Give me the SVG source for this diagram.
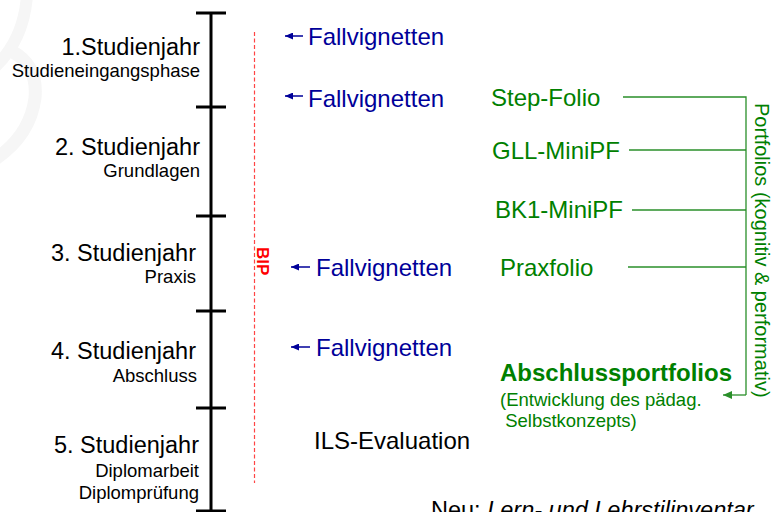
<svg xmlns="http://www.w3.org/2000/svg" width="773" height="512" viewBox="0 0 773 512">
<style>
text{font-family:"Liberation Sans",Arial,sans-serif}
.yr{font-size:23.5px;fill:#000;text-anchor:end}
.sub{font-size:18.5px;fill:#000;text-anchor:end}
.fv{font-size:24px;fill:#000099}
.gr{font-size:24px;fill:#008000}
.grs{font-size:18.5px;fill:#008000}
.blk{font-size:24px;fill:#000}
.tl{stroke:#000;stroke-width:3;fill:none}
.ba{stroke:#000099;stroke-width:1.5;fill:none;marker-end:url(#ab)}
.gl{stroke:#2a8f2a;stroke-width:1.3;fill:none}
</style>
<defs>
<marker id="ab" viewBox="0 0 8 7" refX="8" refY="3.5" markerWidth="8" markerHeight="7" markerUnits="userSpaceOnUse" orient="auto">
<path d="M0,0 L8,3.5 L0,7 z" fill="#000099"/>
</marker>
<marker id="ag" viewBox="0 0 9 8" refX="9" refY="4" markerWidth="9" markerHeight="8" markerUnits="userSpaceOnUse" orient="auto">
<path d="M0,0 L9,4 L0,8 z" fill="#2a8f2a"/>
</marker>
</defs>
<rect width="773" height="512" fill="#fff"/>
<g id="watermark" fill="none" stroke="#f6f6f6" stroke-linecap="round">
<path d="M27 -5 Q24 40 -6 68" stroke-width="12"/>
<path d="M13 52 Q38 66 35 98 Q30 136 -6 160" stroke-width="13"/>
</g>
<g id="timeline">
<path class="tl" d="M211 13 V511 M196 13 H226 M196 107 H226 M196 216 H226 M196 311 H226 M196 408 H226 M196 511 H226"/>
</g>
<g id="year1"><text class="yr" x="200" y="55">1.Studienjahr</text><text class="sub" x="200" y="77">Studieneingangsphase</text></g>
<g id="year2"><text class="yr" x="200" y="155">2. Studienjahr</text><text class="sub" x="200" y="177">Grundlagen</text></g>
<g id="year3"><text class="yr" x="196" y="261">3. Studienjahr</text><text class="sub" x="196" y="283">Praxis</text></g>
<g id="year4"><text class="yr" x="196" y="359">4. Studienjahr</text><text class="sub" x="197" y="382">Abschluss</text></g>
<g id="year5"><text class="yr" x="199" y="453">5. Studienjahr</text><text class="sub" x="199" y="477">Diplomarbeit</text><text class="sub" x="199" y="499">Diplomprüfung</text></g>
<g id="bip">
<line x1="254.5" y1="32" x2="254.5" y2="483" stroke="#ff4444" stroke-width="1.2" stroke-dasharray="4 2.5"/>
<text transform="translate(256.5,247) rotate(90)" font-weight="bold" fill="#ff0000" style="font-size:17px">BIP</text>
</g>
<g id="fv1"><text class="fv" x="308" y="45">Fallvignetten</text></g>
<g id="fv2"><text class="fv" x="308" y="107">Fallvignetten</text></g>
<g id="fv3"><text class="fv" x="316" y="276">Fallvignetten</text></g>
<g id="fv4"><text class="fv" x="316" y="356">Fallvignetten</text></g>
<g id="stepfolio"><text class="gr" x="491" y="106">Step-Folio</text></g>
<g id="gll"><text class="gr" x="492" y="159">GLL-MiniPF</text></g>
<g id="bk1"><text class="gr" x="495" y="218">BK1-MiniPF</text></g>
<g id="praxfolio"><text class="gr" x="500" y="276">Praxfolio</text></g>
<g id="abschluss">
<text class="gr" x="500" y="381" font-weight="bold">Abschlussportfolios</text>
<text class="grs" x="500" y="406">(Entwicklung des pädag.</text>
<text class="grs" x="500" y="427" xml:space="preserve"> Selbstkonzepts)</text>
</g>
<g id="portfolios"><text transform="translate(755,103) rotate(90)" style="font-size:20px" fill="#008000">Portfolios (kognitiv &amp; performativ)</text></g>
<g id="ils"><text class="blk" x="314" y="449">ILS-Evaluation</text></g>
<g id="neu"><text class="blk" x="431" y="518" style="font-size:23.5px">Neu: <tspan font-style="italic">Lern- und Lehrstilinventar</tspan></text></g>
<g id="connectors">
<path class="ba" d="M303 36 H285"/>
<path class="ba" d="M303 96 H285"/>
<path class="ba" d="M310 267 H291"/>
<path class="ba" d="M310 347 H291"/>
<path class="gl" d="M623 97 H746 V395"/>
<path class="gl" d="M629 150 H746"/>
<path class="gl" d="M632 210 H746"/>
<path class="gl" d="M628 267 H746"/>
<path class="gl" d="M746 395 H723" marker-end="url(#ag)"/>
</g>
</svg>
